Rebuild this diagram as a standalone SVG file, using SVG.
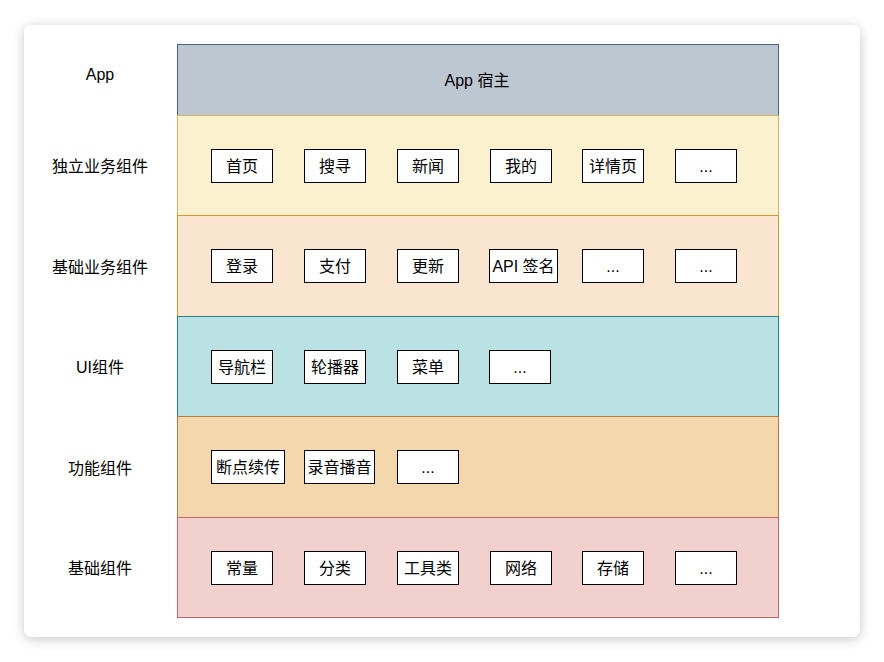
<svg xmlns="http://www.w3.org/2000/svg" width="884" height="662" viewBox="0 0 884 662">
<defs>
<filter id="sh" x="-10%" y="-10%" width="120%" height="120%">
<feDropShadow dx="0" dy="2" stdDeviation="6" flood-color="#000" flood-opacity="0.22"/>
</filter>
</defs>
<style>
text{font-family:"Liberation Sans","Noto Sans CJK SC",sans-serif;font-size:16px;fill:#000;text-anchor:middle;dominant-baseline:central}
.b{fill:#fff;stroke:#000;stroke-width:1}
</style>
<rect width="884" height="662" fill="#fff"/>
<rect x="24" y="25" width="836" height="612" rx="8" fill="#fff" filter="url(#sh)"/>
<g id="labels">
<text x="100" y="74">App</text>
<text x="100" y="166">独立业务组件</text>
<text x="100" y="267">基础业务组件</text>
<text x="100" y="367">UI组件</text>
<text x="100" y="468">功能组件</text>
<text x="100" y="568">基础组件</text>
</g>
<g id="band-app"><rect x="177.5" y="44.5" width="601" height="71" fill="#bdc7d1" stroke="#4a6380"/><text x="477" y="80">App 宿主</text></g>
<g id="band-biz"><rect x="177.5" y="115.5" width="601" height="100" fill="#fcf1cf" stroke="#d3b45e"/></g>
<g id="band-basebiz"><rect x="177.5" y="215.5" width="601" height="101" fill="#fae6d0" stroke="#d39a2e"/></g>
<g id="band-ui"><rect x="177.5" y="316.5" width="601" height="100" fill="#bae1e3" stroke="#2c8088"/></g>
<g id="band-func"><rect x="177.5" y="416.5" width="601" height="101" fill="#f5d7ae" stroke="#b67a3a"/></g>
<g id="band-base"><rect x="177.5" y="517.5" width="601" height="100" fill="#f2d0ce" stroke="#bb6a66"/></g>
<g id="n-shouye"><rect class="b" x="211.5" y="149.5" width="61" height="33"/><text x="242" y="166">首页</text></g>
<g id="n-sousuo"><rect class="b" x="304.5" y="149.5" width="61" height="33"/><text x="335" y="166">搜寻</text></g>
<g id="n-xinwen"><rect class="b" x="397.5" y="149.5" width="61" height="33"/><text x="428" y="166">新闻</text></g>
<g id="n-wode"><rect class="b" x="490.5" y="149.5" width="61" height="33"/><text x="521" y="166">我的</text></g>
<g id="n-xiangqing"><rect class="b" x="582.5" y="149.5" width="61" height="33"/><text x="613" y="166">详情页</text></g>
<g id="n-more1"><rect class="b" x="675.5" y="149.5" width="61" height="33"/><text x="706" y="166">...</text></g>
<g id="n-denglu"><rect class="b" x="211.5" y="249.5" width="61" height="33"/><text x="242" y="266">登录</text></g>
<g id="n-zhifu"><rect class="b" x="304.5" y="249.5" width="61" height="33"/><text x="335" y="266">支付</text></g>
<g id="n-gengxin"><rect class="b" x="397.5" y="249.5" width="61" height="33"/><text x="428" y="266">更新</text></g>
<g id="n-api"><rect class="b" x="489.5" y="249.5" width="68" height="33"/><text x="523.5" y="266">API 签名</text></g>
<g id="n-more2"><rect class="b" x="582.5" y="249.5" width="61" height="33"/><text x="613" y="266">...</text></g>
<g id="n-more3"><rect class="b" x="675.5" y="249.5" width="61" height="33"/><text x="706" y="266">...</text></g>
<g id="n-daohang"><rect class="b" x="211.5" y="350.5" width="61" height="33"/><text x="242" y="367">导航栏</text></g>
<g id="n-lunbo"><rect class="b" x="304.5" y="350.5" width="61" height="33"/><text x="335" y="367">轮播器</text></g>
<g id="n-caidan"><rect class="b" x="397.5" y="350.5" width="61" height="33"/><text x="428" y="367">菜单</text></g>
<g id="n-more4"><rect class="b" x="489.5" y="350.5" width="61" height="33"/><text x="520" y="367">...</text></g>
<g id="n-duandian"><rect class="b" x="211.5" y="450.5" width="73" height="33"/><text x="248" y="467">断点续传</text></g>
<g id="n-luyin"><rect class="b" x="304.5" y="450.5" width="70" height="33"/><text x="339.5" y="467">录音播音</text></g>
<g id="n-more5"><rect class="b" x="397.5" y="450.5" width="61" height="33"/><text x="428" y="467">...</text></g>
<g id="n-changliang"><rect class="b" x="211.5" y="551.5" width="61" height="33"/><text x="242" y="568">常量</text></g>
<g id="n-fenlei"><rect class="b" x="304.5" y="551.5" width="61" height="33"/><text x="335" y="568">分类</text></g>
<g id="n-gongju"><rect class="b" x="397.5" y="551.5" width="61" height="33"/><text x="428" y="568">工具类</text></g>
<g id="n-wangluo"><rect class="b" x="490.5" y="551.5" width="61" height="33"/><text x="521" y="568">网络</text></g>
<g id="n-cunchu"><rect class="b" x="582.5" y="551.5" width="61" height="33"/><text x="613" y="568">存储</text></g>
<g id="n-more6"><rect class="b" x="675.5" y="551.5" width="61" height="33"/><text x="706" y="568">...</text></g>
<g id="connectors"></g>
</svg>
